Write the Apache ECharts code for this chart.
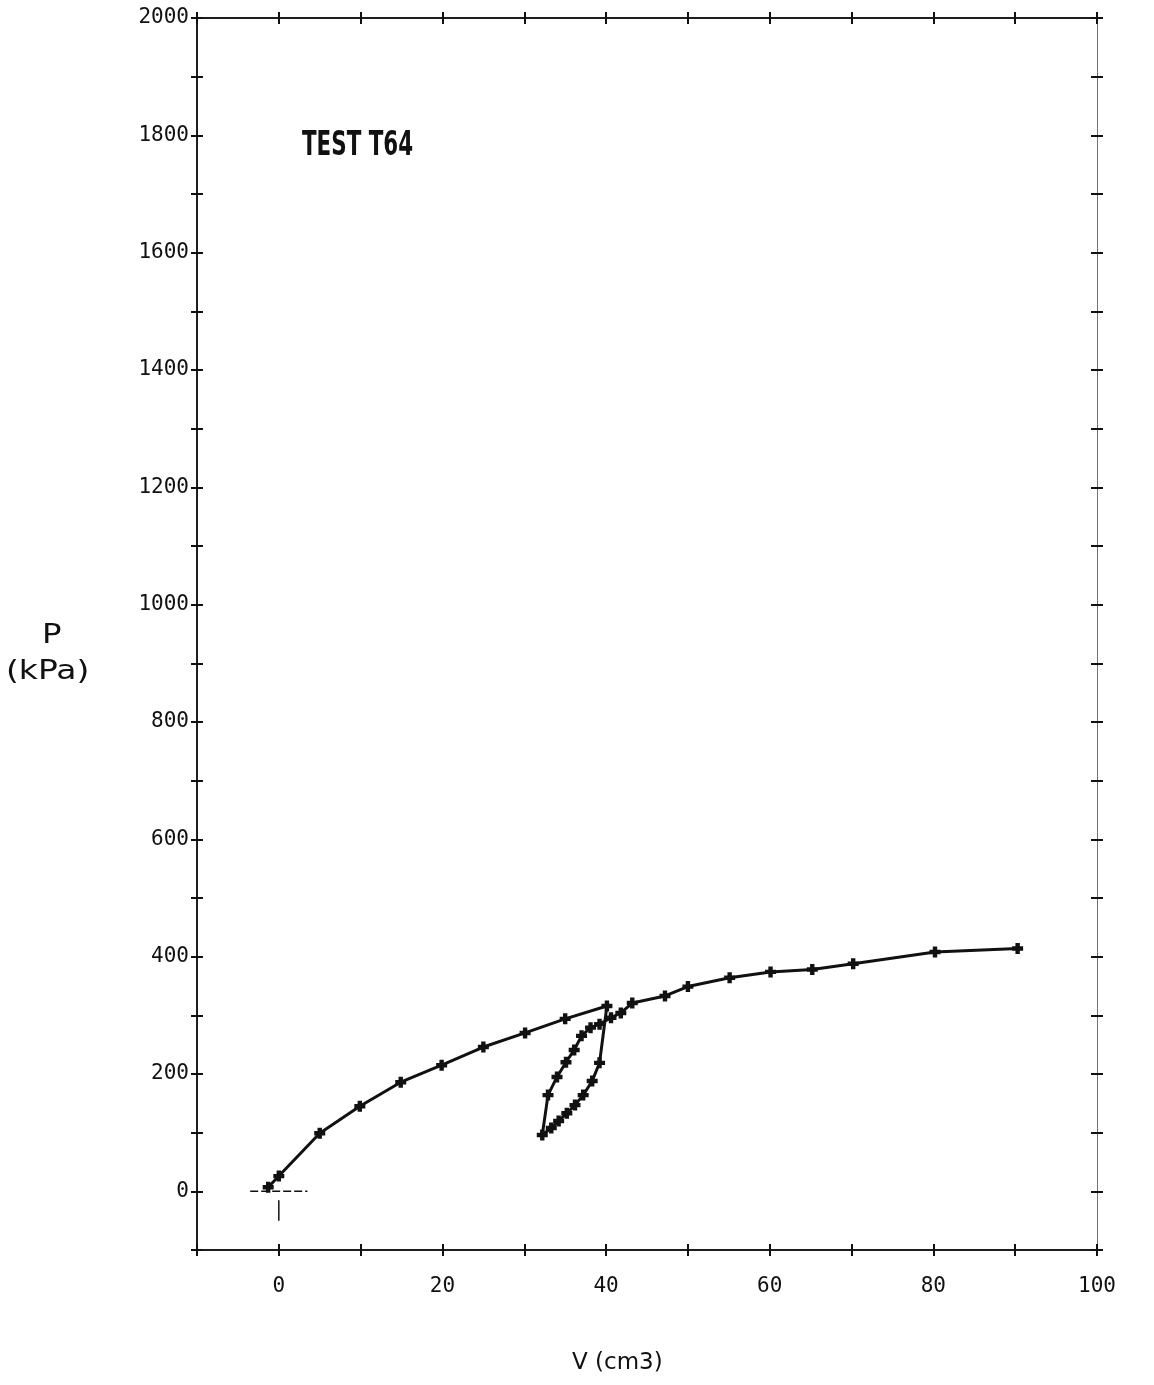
<!DOCTYPE html>
<html>
<head>
<meta charset="utf-8">
<script src="https://cdn.jsdelivr.net/npm/echarts@6/dist/echarts.min.js"></script>
<style>
html,body{margin:0;padding:0;background:#fff;}
#chart{width:1154px;height:1385px;}
</style>
</head>
<body>
<div id="chart"></div>
<script>
// ---- data ----
// first loading branch
var loadV = [-1.3, 0, 5, 9.9, 14.9, 19.9, 25, 30.1, 35, 40.1];
var loadP = [7, 26, 99, 145, 186, 215, 246, 270, 294, 316];
// unloading branch
var unloadV = [39.2, 38.3, 37.2, 36.2, 35.2, 34.2, 33.3, 32.2];
var unloadP = [219, 188, 164, 147, 133, 120, 108, 96];
// reloading branch and continuation
var reloadV = [32.9, 34.0, 35.1, 36.1, 37.0, 38.1, 39.2, 40.6, 41.8, 43.2, 47.2, 50, 55.1, 60.1, 65.2, 70.2, 80.2, 90.3];
var reloadP = [164, 195, 220, 241, 265, 279, 285, 296, 304, 321, 333, 349, 364, 374, 378, 388, 408, 414];
// origin reference cross
var originH = [[-3.5, 0], [3.5, 0]];
var originV = [[0, -50], [0, -15]];
// tick labels
var xTickLabels = ['0', '20', '40', '60', '80', '100'];
var yTickLabels = ['0', '200', '400', '600', '800', '1000', '1200', '1400', '1600', '1800', '2000'];

var allV = loadV.concat(unloadV, reloadV);
var allP = loadP.concat(unloadP, reloadP);
var curve = allV.map(function (v, i) { return [v, allP[i]]; });

var X_MIN = -10, X_MAX = 100, X_INT = 10;
var Y_MIN = -100, Y_MAX = 2000, Y_INT = 100;
var ink = '#111';
var labelFont = 'DejaVu Sans Mono';

function xAxisDef(pos, inside, showLabel, lineStyle) {
  return {
    type: 'value', position: pos, min: X_MIN, max: X_MAX, interval: X_INT,
    axisLine: { show: true, onZero: false, lineStyle: lineStyle },
    axisTick: { show: true, inside: inside, length: 6, lineStyle: { color: ink, width: 2 } },
    splitLine: { show: false },
    axisLabel: {
      show: showLabel, margin: 26, fontFamily: labelFont, fontSize: 21, color: ink,
      formatter: function (v) { var s = String(v); return xTickLabels.indexOf(s) >= 0 ? s : ''; }
    }
  };
}
function yAxisDef(pos, inside, showLabel, lineStyle) {
  return {
    type: 'value', position: pos, min: Y_MIN, max: Y_MAX, interval: Y_INT,
    axisLine: { show: true, onZero: false, lineStyle: lineStyle },
    axisTick: { show: true, inside: inside, length: 6, lineStyle: { color: ink, width: 2 } },
    splitLine: { show: false },
    axisLabel: {
      show: showLabel, margin: 8, fontFamily: labelFont, fontSize: 21, color: ink,
      formatter: function (v) { var s = String(v); return yTickLabels.indexOf(s) >= 0 ? s : ''; }
    }
  };
}
var solid = { color: ink, width: 1.5 };
var dotted = { color: '#666', width: 1, type: 'dotted' };

var crossSym = 'path://M3,0h4v3h3v4h-3v3h-4v-3h-3v-4h3z';

var chart = echarts.init(document.getElementById('chart'), null, { renderer: 'canvas' });
chart.setOption({
  backgroundColor: '#fff',
  animation: false,
  grid: { left: 197, right: 57, top: 18, bottom: 135 },
  xAxis: [
    xAxisDef('bottom', false, true, solid),
    xAxisDef('bottom', true, false, solid),
    xAxisDef('top', false, false, solid),
    xAxisDef('top', true, false, solid)
  ],
  yAxis: [
    yAxisDef('left', false, true, solid),
    yAxisDef('left', true, false, solid),
    yAxisDef('right', false, false, dotted),
    yAxisDef('right', true, false, dotted)
  ],
  graphic: [
    { type: 'text', x: 302, y: 129, scaleX: 0.63, style: { text: 'TEST T64', font: 'bold 34px "DejaVu Sans", sans-serif', fill: ink } },
    { type: 'text', x: 42, y: 622, scaleX: 1.2, style: { text: 'P', font: '27px "DejaVu Sans", sans-serif', fill: ink } },
    { type: 'text', x: 6, y: 658, scaleX: 1.22, style: { text: '(kPa)', font: '27px "DejaVu Sans", sans-serif', fill: ink } },
    { type: 'text', x: 572, y: 1352, style: { text: 'V (cm3)', font: '23px "DejaVu Sans", sans-serif', fill: ink } }
  ],
  series: [
    {
      type: 'line', xAxisIndex: 0, yAxisIndex: 0, data: curve,
      symbol: crossSym, symbolSize: 11, showSymbol: true,
      lineStyle: { color: ink, width: 3 },
      itemStyle: { color: ink, borderWidth: 0 },
      z: 5
    },
    {
      type: 'line', xAxisIndex: 0, yAxisIndex: 0, data: originH, symbol: 'none',
      lineStyle: { color: ink, width: 1.5, type: [8, 3] }
    },
    {
      type: 'line', xAxisIndex: 0, yAxisIndex: 0, data: originV, symbol: 'none',
      lineStyle: { color: ink, width: 1.5 }
    }
  ]
});
</script>
</body>
</html>
